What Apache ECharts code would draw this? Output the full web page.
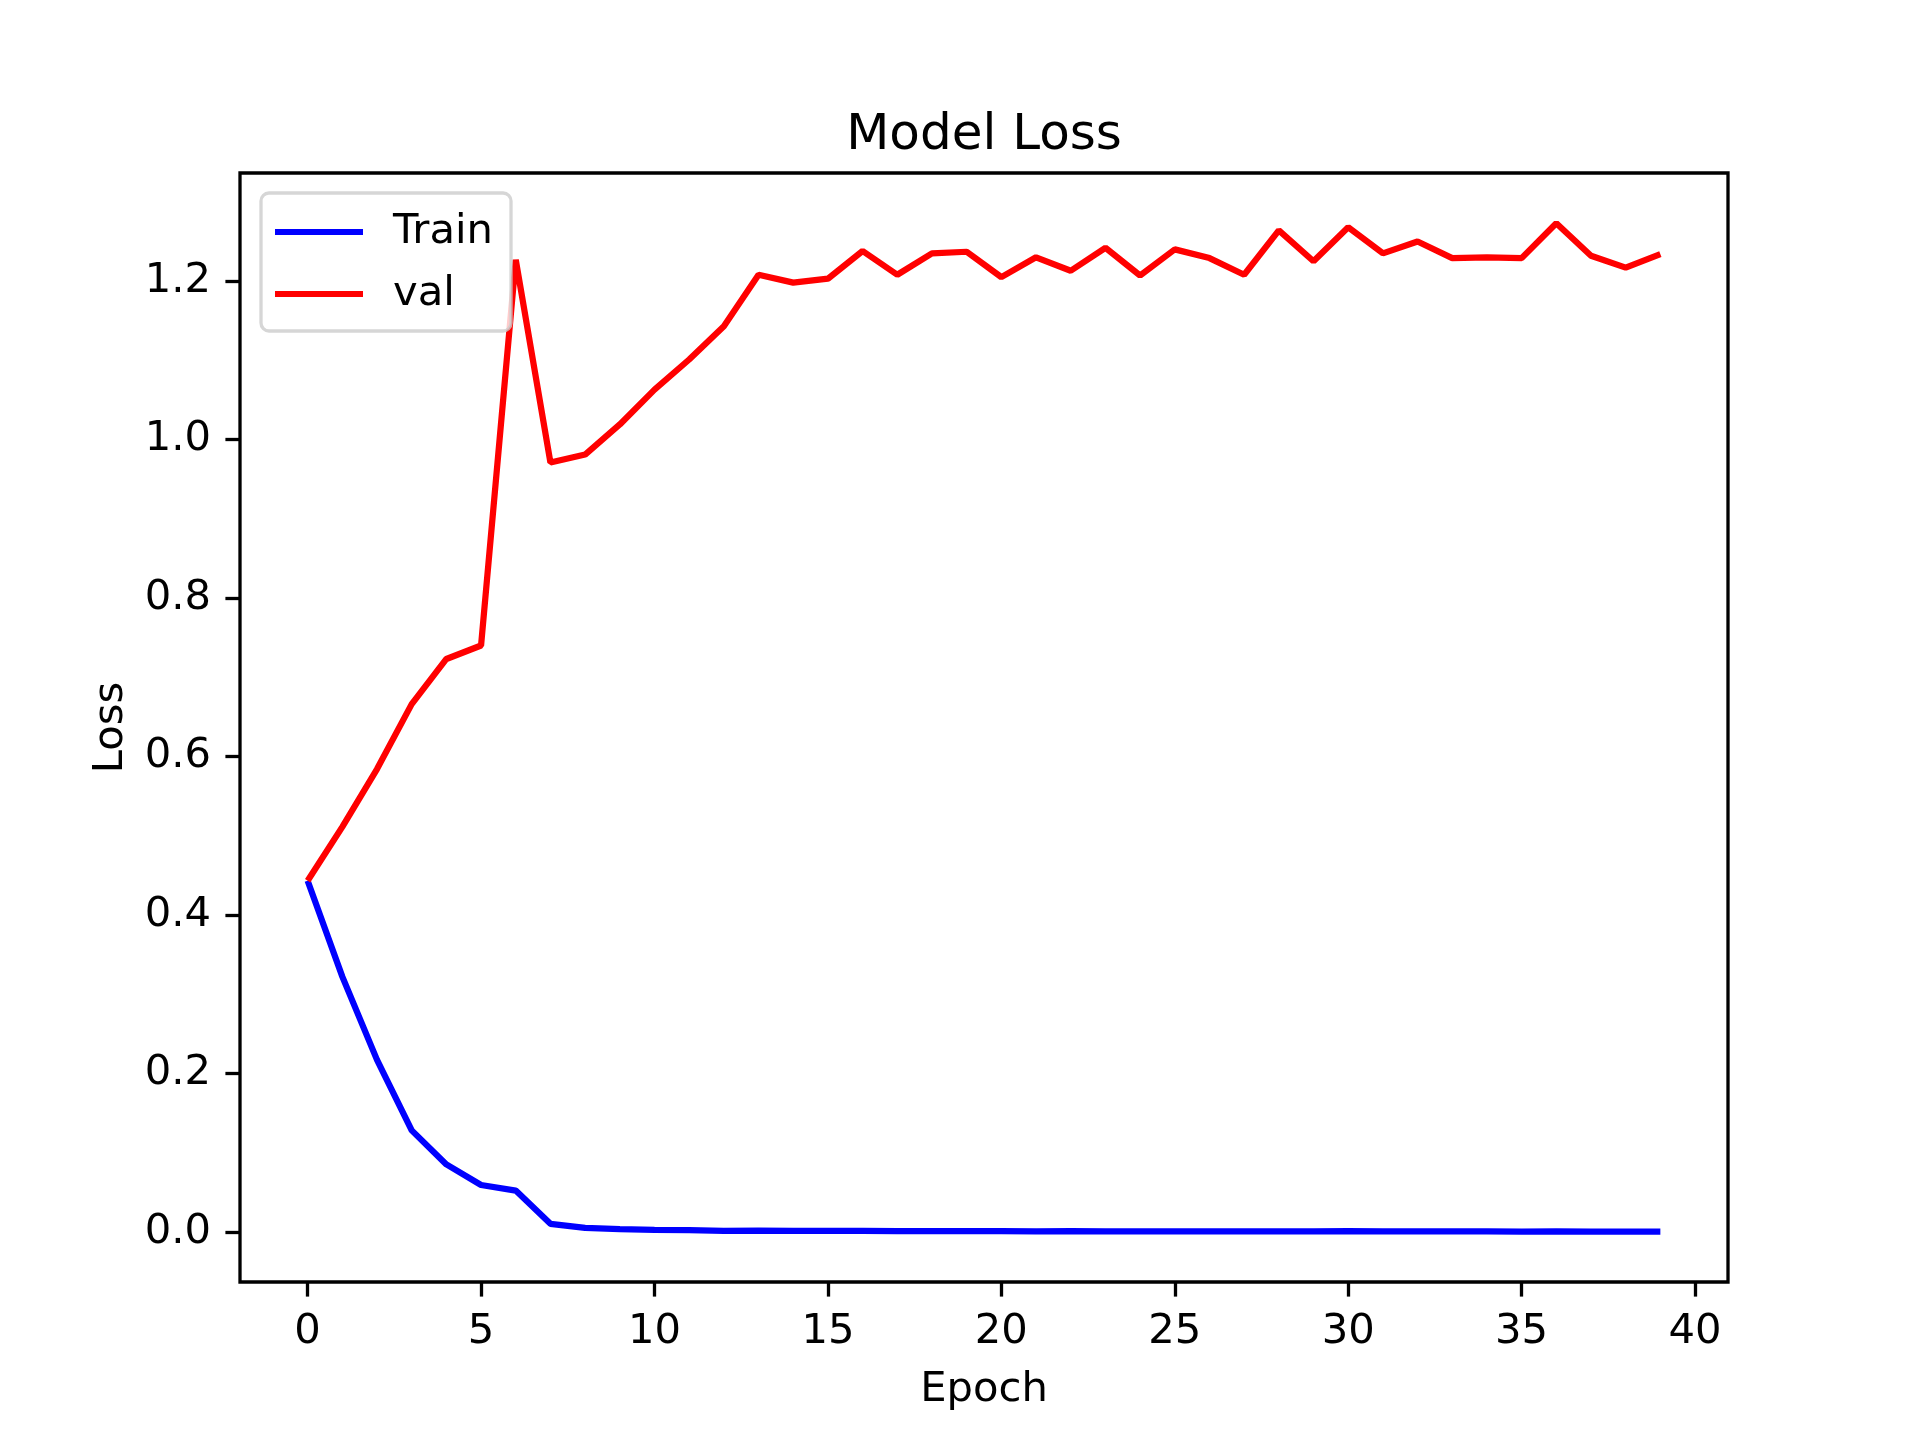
<!DOCTYPE html>
<html>
<head>
<meta charset="utf-8">
<script src="https://cdn.jsdelivr.net/npm/echarts@6/dist/echarts.min.js"></script>
<style>
html,body{margin:0;padding:0;background:#fff;}
#chart{width:1920px;height:1440px;}
</style>
</head>
<body>
<div id="chart"></div>
<script>
const epochs = Array.from({length: 40}, (_, i) => i);
const trainLoss = [0.443, 0.322, 0.217, 0.128, 0.085, 0.059, 0.052, 0.010, 0.0048, 0.0032,
  0.0024, 0.0020, 0.0012, 0.0014, 0.0010, 0.0011, 0.0010, 0.0009, 0.0008, 0.0008,
  0.0007, 0.0006, 0.0009, 0.0005, 0.0005, 0.0005, 0.0004, 0.0004, 0.0005, 0.0004,
  0.0008, 0.0005, 0.0004, 0.0004, 0.0004, 0.0003, 0.0004, 0.0003, 0.0003, 0.0003];
const valLoss = [0.443, 0.511, 0.584, 0.666, 0.723, 0.740, 1.227, 0.971, 0.981, 1.019,
  1.063, 1.101, 1.143, 1.208, 1.198, 1.203, 1.238, 1.208, 1.235, 1.237,
  1.205, 1.230, 1.213, 1.242, 1.207, 1.240, 1.229, 1.208, 1.264, 1.225,
  1.268, 1.235, 1.250, 1.229, 1.230, 1.229, 1.273, 1.232, 1.217, 1.234];
const xTicks = [0, 5, 10, 15, 20, 25, 30, 35, 40];
const yTicks = [0.0, 0.2, 0.4, 0.6, 0.8, 1.0, 1.2];
const seriesNames = ['Train', 'val'];
const seriesColors = ['#0000ff', '#ff0000'];

const FONT = 'DejaVu Sans';
const FS = 41.7;

const chart = echarts.init(document.getElementById('chart'), null, {renderer: 'canvas'});

function pairs(ys) { return epochs.map((x, i) => [x, ys[i]]); }

const xMin = -1.95, xMax = 40.95;
const yMin = -0.0634, yMax = 1.3364;

chart.setOption({
  backgroundColor: '#ffffff',
  animation: false,
  title: {
    text: 'Model Loss',
    left: 979, top: 106, textAlign: 'center',
    textStyle: {fontFamily: FONT, fontSize: 50, fontWeight: 'normal', color: '#000'}
  },
  grid: {
    left: 240, top: 173, width: 1488, height: 1109,
    show: true, borderColor: '#000', borderWidth: 3.3, backgroundColor: 'transparent'
  },
  legend: {
    orient: 'vertical',
    left: 261, top: 193,
    padding: [14, 18, 12, 14],
    itemGap: 12,
    itemWidth: 88, itemHeight: 6,
    icon: 'rect',
    backgroundColor: 'rgba(255,255,255,0.8)',
    borderColor: 'rgba(204,204,204,0.8)', borderWidth: 3.3, borderRadius: 8,
    textStyle: {fontFamily: FONT, fontSize: FS, color: '#000', lineHeight: 50, padding: [0, 0, 0, 25]},
    data: seriesNames
  },
  xAxis: {
    type: 'value', min: xMin, max: xMax,
    name: 'Epoch', nameLocation: 'middle', nameGap: 87,
    nameTextStyle: {fontFamily: FONT, fontSize: FS, color: '#000'},
    axisLine: {show: false, onZero: false},
    axisTick: {show: true, inside: false, length: 14.6, lineStyle: {color: '#000', width: 3.3}, customValues: xTicks},
    axisLabel: {show: true, margin: 29, fontFamily: FONT, fontSize: FS, color: '#000', customValues: xTicks,
      formatter: v => String(v)},
    splitLine: {show: false}
  },
  yAxis: {
    type: 'value', min: yMin, max: yMax,
    name: 'Loss', nameLocation: 'middle', nameGap: 108, nameRotate: 90,
    nameTextStyle: {fontFamily: FONT, fontSize: FS, color: '#000'},
    axisLine: {show: false, onZero: false},
    axisTick: {show: true, inside: false, length: 14.6, lineStyle: {color: '#000', width: 3.3}, customValues: yTicks},
    axisLabel: {show: true, margin: 29, fontFamily: FONT, fontSize: FS, color: '#000', customValues: yTicks,
      formatter: v => v.toFixed(1)},
    splitLine: {show: false}
  },
  series: [
    {name: seriesNames[0], type: 'line', data: pairs(trainLoss), showSymbol: false, symbol: 'none',
      lineStyle: {color: seriesColors[0], width: 6.25}, itemStyle: {color: seriesColors[0]}, z: 2},
    {name: seriesNames[1], type: 'line', data: pairs(valLoss), showSymbol: false, symbol: 'none',
      lineStyle: {color: seriesColors[1], width: 6.25}, itemStyle: {color: seriesColors[1]}, z: 3}
  ]
});
</script>
</body>
</html>
